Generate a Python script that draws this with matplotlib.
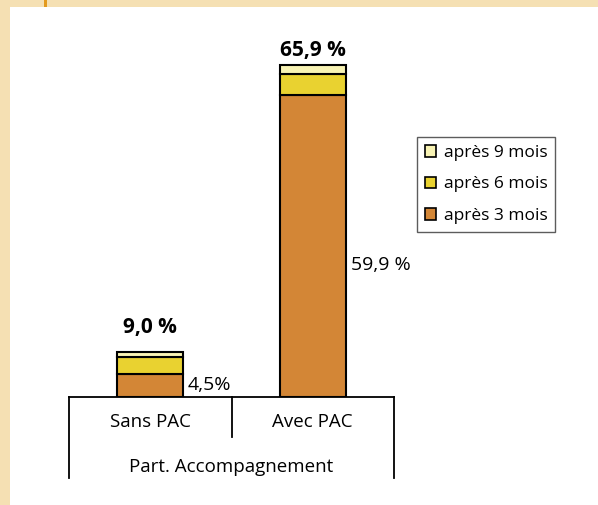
import matplotlib.pyplot as plt
import numpy as np
from matplotlib.patches import Rectangle, Patch

plt.rcParams['font.family'] = ['Open Sans', 'DejaVu Sans']

categories = ['Sans PAC', 'Avec PAC']
group_label = 'Part. Accompagnement'
apres_3 = [4.5, 59.9]
apres_6 = [3.4, 4.2]
apres_9 = [1.1, 1.8]
totals = ['9,0 %', '65,9 %']
base_labels = ['4,5%', '59,9 %']
series_names = ['après 3 mois', 'après 6 mois', 'après 9 mois']
colors = ['#D38636', '#E9D230', '#F8F3B4']

W, H = 598, 505
fig = plt.figure(figsize=(W / 100, H / 100), dpi=100)
fig.patch.set_facecolor('#F5E0B3')
# white panel and orange mark at the top
fig.patches.append(Rectangle((10 / W, 0), 1, (H - 7) / H, transform=fig.transFigure,
                             facecolor='white', edgecolor='none', zorder=-10))
fig.patches.append(Rectangle((44 / W, (H - 7) / H), 3 / W, 7 / H, transform=fig.transFigure,
                             facecolor='#E39A1E', edgecolor='none', zorder=-10))

ax = fig.add_axes([69 / W, (H - 397) / H, 325 / W, 383 / H])
ax.set_facecolor('none')
ax.set_xlim(-0.5, 1.5)
ax.set_ylim(0, 76)

x = np.arange(len(categories))
bw = 0.405
b3 = np.array(apres_3)
b6 = b3 + np.array(apres_6)
ax.bar(x, apres_3, bw, color=colors[0], edgecolor='black', linewidth=1.5, label=series_names[0], zorder=3)
ax.bar(x, apres_6, bw, bottom=b3, color=colors[1], edgecolor='black', linewidth=1.5, label=series_names[1], zorder=3)
ax.bar(x, apres_9, bw, bottom=b6, color=colors[2], edgecolor='black', linewidth=1.5, label=series_names[2], zorder=3)

tops = b6 + np.array(apres_9)
gaps = [4.7, 2.8]
for i in range(len(categories)):
    ax.text(x[i], tops[i] + gaps[i], totals[i], ha='center', va='center', fontsize=15, fontweight='bold')

ax.text(x[0] + bw / 2 + 0.03, 2.3, base_labels[0], ha='left', va='center', fontsize=14)
ax.text(x[1] + bw / 2 + 0.03, 26.2, base_labels[1], ha='left', va='center', fontsize=14)

for s in ['top', 'right', 'left']:
    ax.spines[s].set_visible(False)
ax.spines['bottom'].set_linewidth(1.3)
ax.set_xticks([])
ax.set_yticks([])

# category axis with group separators
tr = ax.get_xaxis_transform()
ax.plot([-0.5, -0.5], [0, -0.211], color='black', lw=1.3, transform=tr, clip_on=False)
ax.plot([1.5, 1.5], [0, -0.211], color='black', lw=1.3, transform=tr, clip_on=False)
ax.plot([0.5, 0.5], [0, -0.104], color='black', lw=1.3, transform=tr, clip_on=False)
for i, c in enumerate(categories):
    ax.text(x[i], -0.066, c, transform=tr, ha='center', va='center', fontsize=13.5)
ax.text(0.5, -0.183, group_label, transform=tr, ha='center', va='center', fontsize=13.5)

handles = [Patch(facecolor=colors[k], edgecolor='black', linewidth=1.2, label=series_names[k]) for k in [2, 1, 0]]
leg = fig.legend(handles=handles, loc='upper left', bbox_to_anchor=(417 / W, 1 - 137 / H),
                 fontsize=12.5, frameon=True, fancybox=False, handlelength=0.65, handleheight=0.65,
                 handletextpad=0.45, labelspacing=0.9, borderpad=0.45, borderaxespad=0)
leg.get_frame().set_edgecolor('#333333')
leg.get_frame().set_linewidth(1.0)

fig.savefig('out.png', dpi=100, facecolor=fig.get_facecolor())
